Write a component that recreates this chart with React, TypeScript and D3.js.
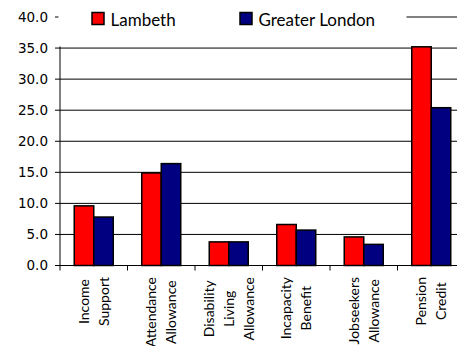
import React from "react";
import * as d3 from "d3";

const categories: string[][] = [
  ["Income", "Support"],
  ["Attendance", "Allowance"],
  ["Disability", "Living", "Allowance"],
  ["Incapacity", "Benefit"],
  ["Jobseekers", "Allowance"],
  ["Pension", "Credit"],
];
const seriesNames = ["Lambeth", "Greater London"];
const seriesColors = ["#FF0000", "#000080"];
const lambeth = [9.6, 14.9, 3.8, 6.6, 4.6, 35.2];
const greaterLondon = [7.8, 16.4, 3.8, 5.7, 3.4, 25.4];
const yTicks = [0, 5, 10, 15, 20, 25, 30, 35, 40];

const W = 457;
const H = 346;
const LABEL_FONT = "14px Lato";

let ctx: CanvasRenderingContext2D | null = null;
function measure(t: string): number {
  if (!ctx) {
    const c = document.createElement("canvas");
    ctx = c.getContext("2d");
  }
  if (!ctx) return t.length * 7;
  ctx.font = LABEL_FONT;
  return ctx.measureText(t).width;
}

export default function App() {
  const series = [lambeth, greaterLondon];
  const catKeys = categories.map((c) => c.join(" "));
  const x = d3.scaleBand<string>().domain(catKeys).range([60, 465]).padding(0);
  const sub = d3
    .scaleBand<string>()
    .domain(seriesNames)
    .range([0, x.bandwidth()])
    .paddingInner(0)
    .paddingOuter(0.7308);
  const y = d3.scaleLinear().domain([0, 40]).range([265.5, 17]);
  const x0 = 60;
  const x1 = 465;
  const lineGap = 20;
  const blockTop = 277;

  return (
    <svg
      width={W}
      height={H}
      style={{ position: "absolute", left: 0, top: 0, background: "#fff" }}
    >
      <rect x={0} y={0} width={W} height={H} fill="#fff" />
      {/* gridlines */}
      {yTicks.slice(1).map((t) => (
        <line key={t} x1={x0} x2={x1} y1={y(t)} y2={y(t)} stroke="#000" strokeWidth={1} />
      ))}
      {/* y ticks */}
      {yTicks.map((t) => (
        <g key={"yt" + t}>
          <line x1={x0 - 5} x2={x0} y1={y(t)} y2={y(t)} stroke="#000" strokeWidth={1} />
          <text
            x={x0 - 12}
            y={y(t)}
            dy="0.36em"
            textAnchor="end"
            fontFamily="DejaVu Sans"
            fontSize={13.5}
            fill="#000"
          >
            {t.toFixed(1)}
          </text>
        </g>
      ))}
      {/* y axis */}
      <line x1={x0} x2={x0} y1={y(40)} y2={y(0)} stroke="#000" strokeWidth={1} />
      {/* bars */}
      {catKeys.map((k, i) => (
        <g key={k}>
          {series.map((s, j) => (
            <rect
              key={j}
              x={(x(k) as number) + (sub(seriesNames[j]) as number)}
              y={y(s[i])}
              width={sub.bandwidth()}
              height={y(0) - y(s[i])}
              fill={seriesColors[j]}
              stroke="#000"
              strokeWidth={1.5}
            />
          ))}
        </g>
      ))}
      {/* x axis */}
      <line x1={x0} x2={x1} y1={y(0)} y2={y(0)} stroke="#000" strokeWidth={1} />
      {catKeys.map((k, i) => (
        <line
          key={"xt" + i}
          x1={x(k) as number}
          x2={x(k) as number}
          y1={y(0)}
          y2={y(0) + 5}
          stroke="#000"
          strokeWidth={1}
        />
      ))}
      {/* x labels */}
      {categories.map((lines, i) => {
        const c = (x(catKeys[i]) as number) + x.bandwidth() / 2;
        const maxLen = Math.max(...lines.map(measure));
        const by = blockTop + maxLen / 2;
        return lines.map((ln, li) => {
          const bx = c + (li - (lines.length - 1) / 2) * lineGap + 5;
          return (
            <text
              key={i + "-" + li}
              transform={`translate(${bx},${by}) rotate(-90)`}
              textAnchor="middle"
              fontFamily="Lato"
              fontSize={14}
              fill="#000"
            >
              {ln}
            </text>
          );
        });
      })}
      {/* legend */}
      <rect x={58.5} y={2} width={348} height={44.5} fill="#fff" />
      {seriesNames.map((n, j) => {
        const lx = [92, 240][j];
        return (
          <g key={n}>
            <rect
              x={lx}
              y={12.5}
              width={12}
              height={12}
              fill={seriesColors[j]}
              stroke="#000"
              strokeWidth={1.5}
            />
            <text x={lx + 18.5} y={26} fontFamily="Lato" fontSize={17} fill="#000">
              {n}
            </text>
          </g>
        );
      })}
    </svg>
  );
}
